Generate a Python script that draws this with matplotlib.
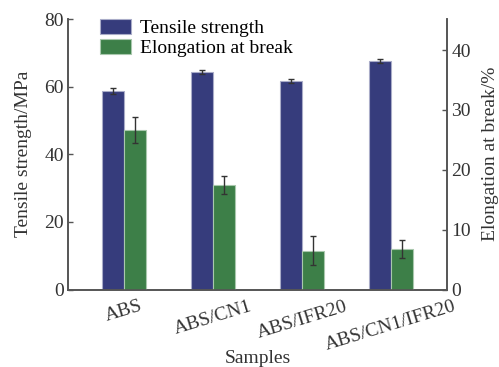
import numpy as np
import matplotlib.pyplot as plt

plt.rcParams['font.family'] = ['Liberation Serif', 'DejaVu Serif']

# data
samples = ['ABS', 'ABS/CN1', 'ABS/IFR20', 'ABS/CN1/IFR20']
tensile = [58.7, 64.4, 61.6, 67.6]          # MPa
tensile_err = [0.8, 0.6, 0.6, 0.5]
elongation = [26.6, 17.5, 6.5, 6.8]         # %
elongation_err = [2.2, 1.5, 2.4, 1.5]

blue = '#363c7c'
green = '#3d7f48'
gray = '#555555'
fs = 14

fig = plt.figure(figsize=(4.99, 3.67), dpi=100)
ax = fig.add_axes([68 / 499, 1 - 289.5 / 367, 379 / 499, 270.5 / 367])
ax2 = ax.twinx()

x = np.arange(len(samples))
w = 0.244
b1 = ax.bar(x - w / 2, tensile, w, color=blue, edgecolor='#a9acc8', linewidth=0.8,
            yerr=tensile_err, capsize=2.5,
            error_kw=dict(ecolor='#333333', elinewidth=1, capthick=1),
            label='Tensile strength')
b2 = ax2.bar(x + w / 2, elongation, w, color=green, edgecolor='#a9c8ad', linewidth=0.8,
             yerr=elongation_err, capsize=2.5,
             error_kw=dict(ecolor='#333333', elinewidth=1, capthick=1),
             label='Elongation at break')

ax.set_xlim(-0.63, 3.63)
ax.set_ylim(0, 80)
ax2.set_ylim(0, 45.2)
ax.set_yticks([0, 20, 40, 60, 80])
ax2.set_yticks([0, 10, 20, 30, 40])

ax.set_xticks(x)
ax.set_xticklabels(samples, rotation=17, fontsize=fs, color='#333333')
ax.tick_params(axis='x', length=0, pad=6)
for a in (ax, ax2):
    a.tick_params(axis='y', direction='in', length=3.5, width=1, colors=gray,
                  labelsize=fs, labelcolor='#333333', pad=3)
    for s in a.spines.values():
        s.set_color(gray)
        s.set_linewidth(1.2)
    a.spines['top'].set_visible(False)

ax.set_ylabel('Tensile strength/MPa', fontsize=fs, color='#333333', labelpad=9)
ax2.set_ylabel('Elongation at break/%', fontsize=fs, color='#333333', labelpad=8)
ax.set_xlabel('Samples', fontsize=fs, color='#333333', labelpad=-3)

ax.legend([b1, b2], ['Tensile strength', 'Elongation at break'],
          loc='upper left', bbox_to_anchor=(0.085, 1.0), frameon=False,
          fontsize=fs, handlelength=1.6, handleheight=0.8, handletextpad=0.45,
          labelspacing=0.1, borderpad=0.0, borderaxespad=0.0)

fig.savefig('out.png', dpi=100)
